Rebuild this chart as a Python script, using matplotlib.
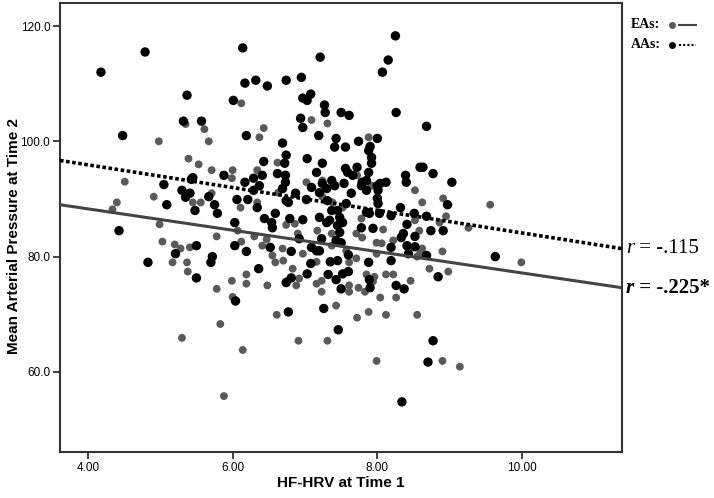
import matplotlib
matplotlib.use('Agg')

import matplotlib.pyplot as plt
import matplotlib.transforms as mtransforms
from matplotlib.lines import Line2D
import numpy as np

# EAs (grey dots, solid fit line)
ea_hrv = [6.12, 7.09, 7.31, 6.43, 6.37, 5.61, 5.67, 4.98, 5.39, 5.53,
          5.71, 6.00, 5.99, 4.51, 4.91, 4.40, 4.34, 5.45, 5.56, 5.71,
          6.11, 6.34, 6.62, 6.34, 4.99, 5.03, 5.28, 5.78, 6.07, 6.30,
          6.47, 6.86, 6.90, 7.17, 7.37, 6.12, 6.69, 7.24, 7.38, 7.52,
          7.02, 7.24, 7.88, 7.92, 8.52, 8.62, 8.91, 8.95, 9.56, 9.26,
          8.08, 8.52, 8.58, 8.22, 7.71, 8.06, 9.99, 8.90, 8.98, 8.72,
          8.46, 8.26, 8.04, 8.12, 7.88, 7.72, 8.55, 8.12, 8.22, 7.85,
          7.96, 7.94, 7.74, 7.83, 7.99, 7.99, 8.90, 9.14, 8.59, 5.17,
          5.37, 5.38, 5.30, 5.78, 5.83, 5.88, 5.99, 6.00, 6.19, 6.19,
          6.14, 6.48, 6.61, 6.59, 6.55, 6.70, 6.76, 6.88, 6.83, 6.91,
          7.31, 6.97, 7.16, 7.23, 7.23, 7.43, 7.61, 7.61, 7.16, 7.61,
          8.86, 8.62, 8.55, 6.92, 6.74, 7.78, 7.79, 7.99, 7.72, 7.37,
          7.57, 7.71, 5.20, 5.41, 6.41, 5.35, 6.63]
ea_map = [106.6, 103.7, 103.1, 102.3, 100.7, 102.1, 100.0, 100.0, 97.0, 96.0,
          95.0, 95.0, 93.6, 93.0, 90.4, 89.4, 88.2, 89.4, 89.4, 91.0,
          88.5, 89.4, 96.3, 95.0, 85.6, 82.6, 81.4, 83.5, 84.5, 83.5,
          83.0, 85.7, 84.0, 84.5, 84.0, 82.6, 81.4, 90.4, 89.4, 88.5,
          92.9, 93.2, 100.7, 92.3, 91.5, 89.4, 90.1, 87.0, 89.0, 85.0,
          84.7, 86.3, 84.5, 82.8, 84.0, 82.3, 79.0, 80.9, 77.4, 77.9,
          75.8, 72.9, 72.9, 69.9, 70.4, 69.4, 69.9, 76.9, 76.9, 76.9,
          76.5, 75.7, 74.6, 73.9, 80.5, 61.9, 61.9, 60.9, 80.5, 79.0,
          79.0, 77.4, 65.9, 74.4, 68.3, 55.8, 75.8, 73.0, 76.9, 75.3,
          63.8, 75.0, 69.9, 79.0, 80.2, 79.3, 75.8, 75.0, 77.9, 65.4,
          65.4, 80.5, 75.3, 73.9, 75.8, 71.5, 75.0, 73.9, 79.1, 79.0,
          85.9, 81.4, 80.0, 76.2, 85.5, 86.6, 83.3, 82.4, 94.1, 81.9,
          81.0, 79.7, 82.1, 81.6, 81.9, 103.0, 91.1]

# AAs (black dots, dotted fit line)
aa_hrv = [4.18, 4.79, 6.14, 7.21, 8.25, 8.15, 8.07, 8.26, 8.68, 5.37,
          4.48, 5.32, 5.57, 6.01, 6.17, 6.32, 6.48, 6.74, 6.95, 7.08,
          6.97, 7.03, 7.27, 7.28, 7.50, 7.61, 6.94, 6.97, 7.19, 7.43,
          7.74, 8.00, 6.19, 6.69, 6.74, 7.03, 6.72, 7.24, 7.41, 7.56,
          7.90, 7.88, 7.92, 7.92, 7.56, 7.72, 6.43, 5.88, 6.62, 6.73,
          6.29, 6.41, 5.43, 6.17, 5.05, 5.30, 5.41, 5.35, 5.67, 5.75,
          5.79, 5.48, 5.09, 6.06, 6.21, 6.34, 6.29, 6.37, 6.73, 6.77,
          6.87, 7.02, 7.09, 7.24, 7.37, 7.41, 7.54, 7.59, 7.66, 7.64,
          7.31, 7.37, 7.45, 7.20, 7.30, 7.48, 7.52, 6.44, 6.54, 6.59,
          6.55, 6.79, 6.97, 6.03, 4.43, 5.50, 6.03, 6.52, 7.09, 7.23,
          7.43, 7.50, 8.59, 8.63, 8.77, 8.39, 8.40, 9.03, 8.32, 8.19,
          8.51, 8.68, 8.97, 7.78, 7.94, 8.36, 8.52, 8.74, 8.91, 8.41,
          8.52, 9.63, 7.88, 8.19, 8.43, 8.68, 7.89, 7.90, 8.26, 8.37,
          8.84, 8.77, 8.70, 8.34, 4.83, 5.21, 5.50, 5.72, 5.70, 6.04,
          6.19, 6.36, 6.77, 6.81, 6.81, 7.03, 7.08, 7.26, 7.46, 7.32,
          7.35, 7.43, 7.52, 7.60, 7.50, 7.60, 7.45, 7.20, 5.45, 7.16,
          7.79, 8.00, 6.69, 6.74, 7.20, 7.30, 7.85, 8.00, 7.57, 7.34,
          7.45, 7.48, 7.89, 8.03, 6.92, 7.16, 6.74, 8.33, 8.41, 8.19,
          7.88, 7.85, 7.78, 8.04, 8.12, 8.01, 8.01, 7.85]
aa_map = [112.0, 115.5, 116.2, 114.6, 118.3, 114.1, 112.0, 105.0, 102.6, 108.0,
          101.0, 103.5, 103.5, 107.1, 110.1, 110.6, 109.6, 110.6, 111.1, 108.2,
          107.5, 107.1, 106.3, 105.0, 105.0, 104.5, 104.0, 102.4, 101.0, 100.5,
          100.0, 100.5, 101.0, 99.7, 97.6, 97.0, 96.2, 96.2, 99.0, 99.0,
          99.1, 98.4, 97.2, 96.2, 95.3, 95.5, 96.5, 94.1, 94.4, 94.1,
          93.6, 94.1, 93.4, 92.9, 92.5, 91.5, 91.0, 90.3, 90.4, 89.0,
          87.5, 88.0, 89.0, 89.9, 89.9, 88.5, 91.5, 92.3, 92.9, 89.4,
          91.0, 89.9, 92.0, 92.7, 93.2, 92.3, 92.7, 94.6, 94.1, 91.0,
          89.7, 88.0, 88.0, 86.8, 85.9, 86.8, 85.9, 86.6, 85.9, 87.5,
          85.0, 86.6, 86.4, 85.9, 84.5, 81.9, 81.9, 81.6, 81.6, 83.1,
          82.8, 82.4, 95.5, 95.5, 94.4, 94.1, 92.9, 92.9, 88.5, 87.1,
          87.5, 87.0, 89.0, 85.0, 84.9, 84.0, 83.5, 84.5, 84.5, 85.6,
          81.7, 80.0, 79.0, 79.3, 80.5, 80.2, 76.0, 74.6, 75.0, 74.4,
          76.5, 65.4, 61.7, 54.8, 79.0, 80.5, 76.3, 80.0, 79.0, 72.3,
          80.9, 77.9, 70.4, 76.3, 80.9, 77.0, 78.8, 71.0, 67.3, 76.9,
          79.1, 76.0, 77.0, 77.4, 74.4, 80.3, 79.3, 81.0, 93.7, 94.6,
          92.9, 92.3, 91.8, 89.7, 91.1, 91.8, 91.5, 90.1, 89.2, 86.3,
          85.4, 84.2, 87.5, 87.5, 83.1, 81.0, 75.5, 83.3, 81.9, 81.6,
          94.6, 93.2, 92.3, 92.7, 92.9, 91.5, 89.2, 87.7]

# fit lines (intercept, slope)
ea_fit = (95.7, -1.854)
aa_fit = (103.8, -1.97)
ea_r = '-.225*'
aa_r = '-.115'

xticks = [4.0, 6.0, 8.0, 10.0]
yticks = [60.0, 80.0, 100.0, 120.0]
xlim = (3.614, 11.38)
ylim = (46.1, 124.0)

plt.rcParams['font.family'] = ['Liberation Sans', 'DejaVu Sans']

fig = plt.figure(figsize=(7.14, 4.98), dpi=100)
ax = fig.add_axes([0.084, 0.0924, 0.787, 0.9016])

grey = '#5a5a5a'
ax.scatter(ea_hrv, ea_map, s=32, color=grey, edgecolors='none', zorder=2)
ax.scatter(aa_hrv, aa_map, s=46, color='black', edgecolors='none', zorder=3)

xs = np.array(xlim)
ax.plot(xs, ea_fit[0] + ea_fit[1] * xs, color='#444444', lw=2.2,
        solid_capstyle='butt', zorder=4)
ax.plot(xs, aa_fit[0] + aa_fit[1] * xs, color='black', lw=2.6,
        linestyle=(0, (1.0, 0.7)), zorder=4)

ax.set_xlim(xlim)
ax.set_ylim(ylim)
ax.set_xticks(xticks)
ax.set_yticks(yticks)
ax.set_xticklabels(['%.2f' % v for v in xticks])
ax.set_yticklabels(['%.1f' % v for v in yticks])
ax.tick_params(direction='out', length=5, width=1.3, color='#333333',
               labelsize=8.5, pad=2)
for sp in ax.spines.values():
    sp.set_color('#333333')
    sp.set_linewidth(1.5)

ax.set_xlabel('HF-HRV at Time 1', fontsize=11, fontweight='bold', va='center')
ax.xaxis.set_label_coords(0.5, -0.069)
ax.set_ylabel('Mean Arterial Pressure at Time 2', fontsize=11,
              fontweight='bold', va='center')
ax.yaxis.set_label_coords(-0.082, 0.48)

# r labels at right end of each fit line
trans = mtransforms.blended_transform_factory(ax.transAxes, ax.transData)
serif = ['Liberation Serif', 'DejaVu Serif']
y_aa = aa_fit[0] + aa_fit[1] * xlim[1]
y_ea = ea_fit[0] + ea_fit[1] * xlim[1]
t1 = ax.text(1.007, y_aa, 'r', transform=trans, family=serif, style='italic',
             fontsize=15, va='center', ha='left', clip_on=False)
ax.annotate(' = ' + aa_r, xy=(1, 0), xycoords=t1, va='bottom', ha='left',
            family=serif, fontsize=15)
t2 = ax.text(1.007, y_ea, 'r', transform=trans, family=serif, style='italic',
             fontweight='bold', fontsize=15, va='center', ha='left',
             clip_on=False)
ax.annotate(' = ' + ea_r, xy=(1, 0), xycoords=t2, va='bottom', ha='left',
            family=serif, fontweight='bold', fontsize=15)

# group key, top right
fig.text(0.884, 0.950, 'EAs:', family=serif, fontweight='bold', fontsize=10,
         va='center')
fig.text(0.884, 0.910, 'AAs:', family=serif, fontweight='bold', fontsize=10,
         va='center')
fig.add_artist(Line2D([0.941], [0.950], marker='o', ms=4, color=grey,
                      transform=fig.transFigure))
fig.add_artist(Line2D([0.951, 0.975], [0.950, 0.950], color='#444444', lw=1.5,
                      transform=fig.transFigure))
fig.add_artist(Line2D([0.941], [0.910], marker='o', ms=4, color='black',
                      transform=fig.transFigure))
fig.add_artist(Line2D([0.951, 0.975], [0.910, 0.910], color='black', lw=1.5,
                      linestyle=(0, (1, 1)), transform=fig.transFigure))

fig.savefig('out.png', dpi=100)
